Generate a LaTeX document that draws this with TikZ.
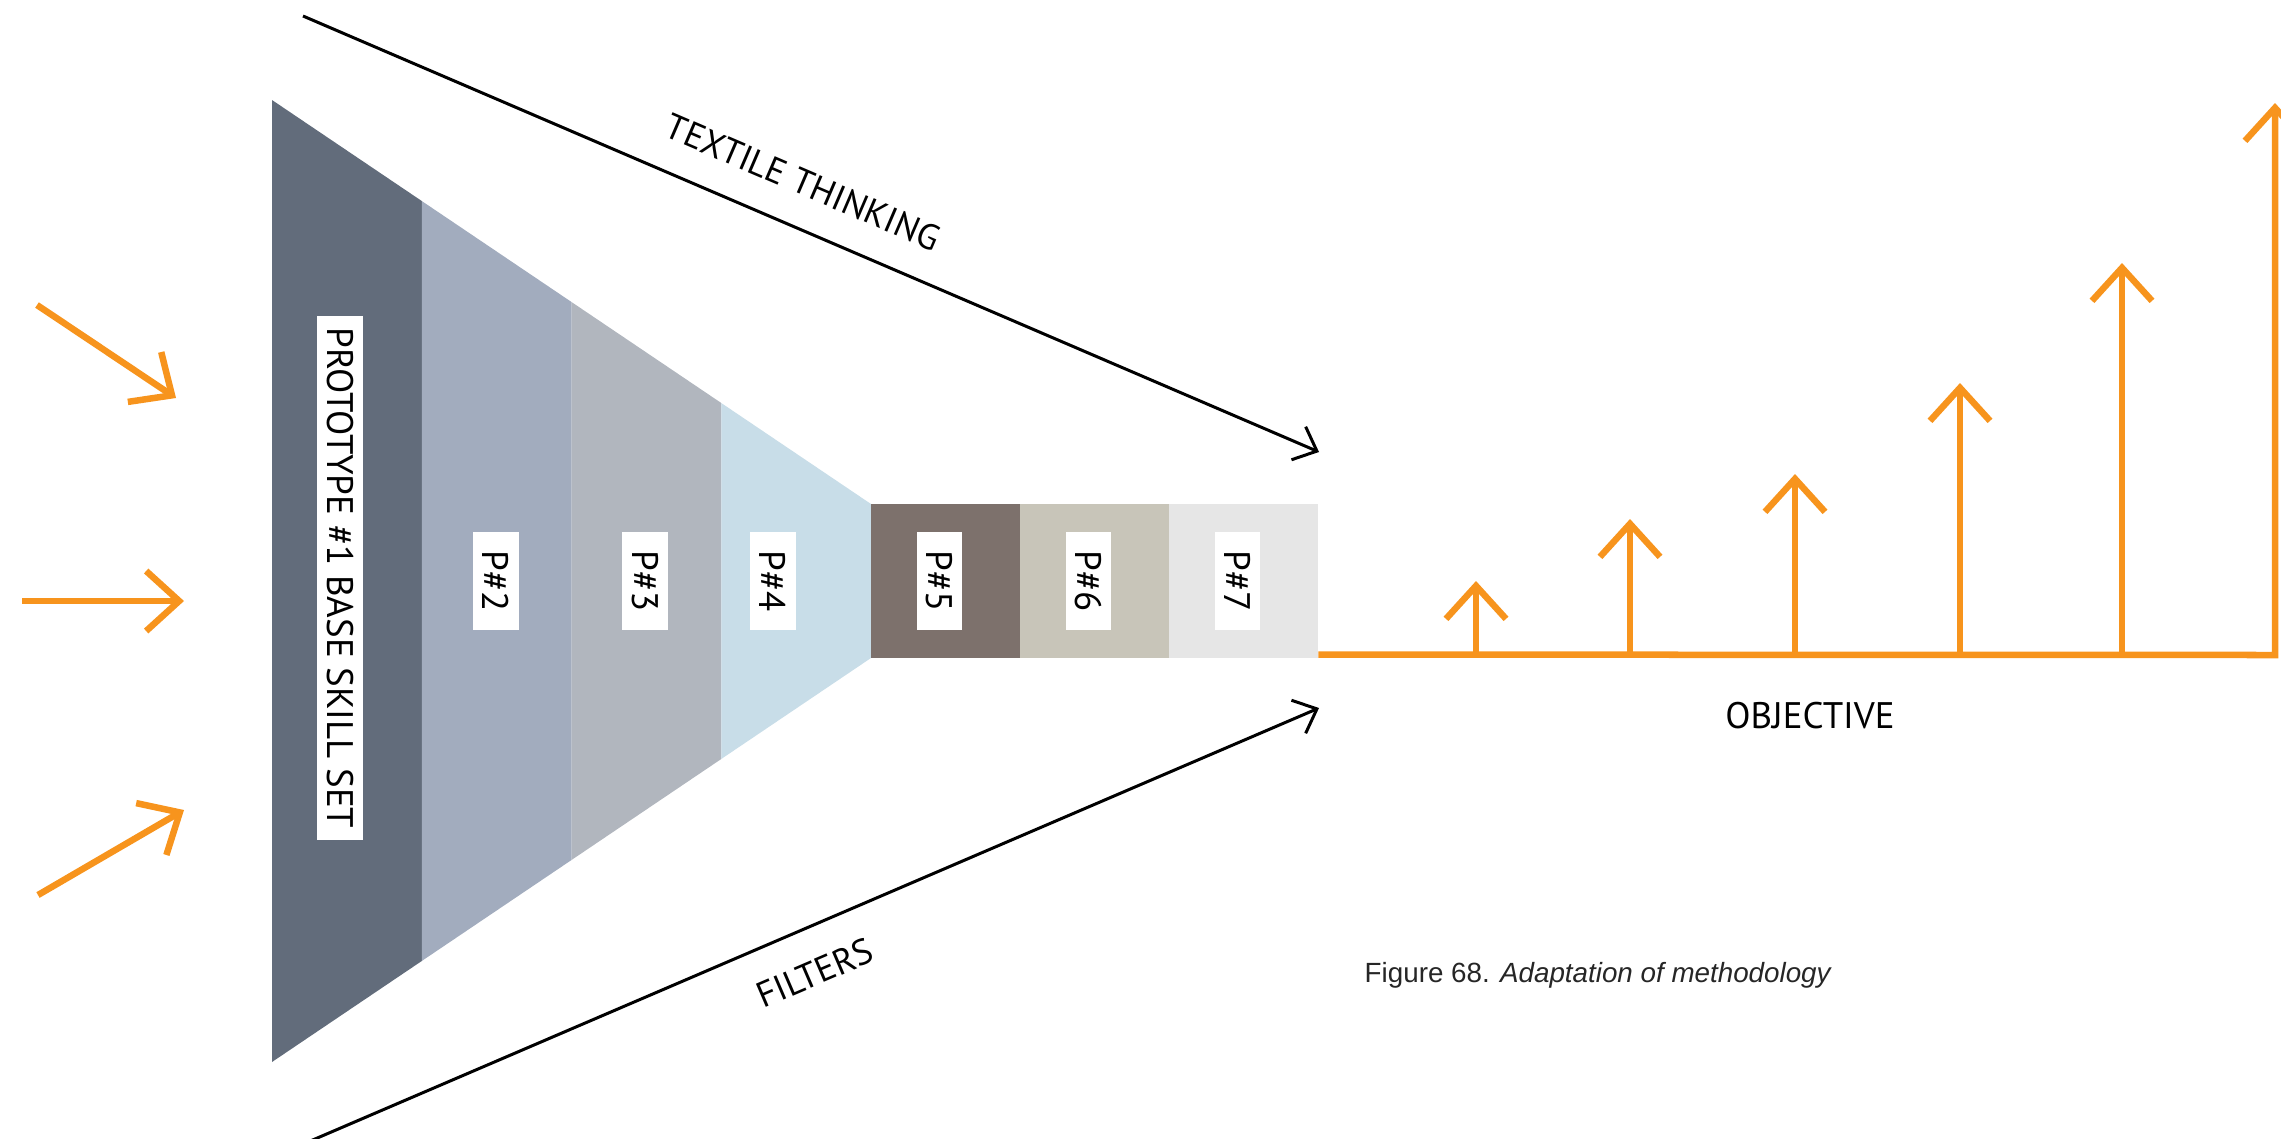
\documentclass[tikz,border=0pt]{standalone}
\usepackage{fontspec}
\setmainfont{PT Sans}
\newfontfamily\captionfont{Liberation Sans}
\usetikzlibrary{arrows.meta,calc,positioning}

\definecolor{stepA}{RGB}{98,108,123}
\definecolor{stepB}{RGB}{162,172,190}
\definecolor{stepC}{RGB}{177,182,190}
\definecolor{stepD}{RGB}{200,221,232}
\definecolor{stepE}{RGB}{125,113,108}
\definecolor{stepF}{RGB}{200,197,185}
\definecolor{stepG}{RGB}{230,230,230}
\definecolor{goalorange}{RGB}{247,148,29}

\tikzset{
    tag/.style={fill=white, rotate=-90, inner sep=0pt, minimum width=0.98cm, minimum height=0.45cm, font=\fontsize{10.5}{12}\selectfont},
    block/.style={minimum width=1.49cm, minimum height=1.54cm, inner sep=0pt, outer sep=0pt},
    flow/.style={line width=0.03cm, -{Straight Barb[length=0.2cm, width=0.36cm]}},
    push/.style={goalorange, line width=0.065cm, -{Straight Barb[length=0.33cm, width=0.6cm]}},
    slant/.style={font=\fontsize{10.2}{12}\selectfont, inner sep=0pt},
}

\begin{document}
\begin{tikzpicture}[x=0.01cm, y=-0.01cm]
    \useasboundingbox (0,0) rectangle (2281,1139);

    % funnel corners
    \coordinate (ftl) at (272,100);
    \coordinate (ftr) at (871,504);
    \coordinate (fbr) at (871,658);
    \coordinate (fbl) at (272,1062);
    \foreach \c [count=\i from 0] in {stepA,stepB,stepC,stepD} {
        \pgfmathsetmacro\j{\i+1}
        \fill[\c] ($(ftl)!\i/4!(ftr)$) -- ($(ftl)!\j/4!(ftr)$) -- ($(fbl)!\j/4!(fbr)$) -- ($(fbl)!\i/4!(fbr)$) -- cycle;
    }

    % straight part
    \node[block, fill=stepE, anchor=north west] (b5) at (871,504) {};
    \node[block, fill=stepF, right=0pt of b5] (b6) {};
    \node[block, fill=stepG, right=0pt of b6] (b7) {};

    % prototype tags
    \node[tag, minimum width=5.24cm] (p1) at (340,578) {PROTOTYPE \#1 BASE SKILL SET};
    \node[tag] (p2) at (496,581) {P\#2};
    \node[tag] (p3) at (645,581) {P\#3};
    \node[tag] (p4) at (773,581) {P\#4};
    \node[tag] (p5) at ([xshift=-0.06cm]b5.center) {P\#5};
    \node[tag] (p6) at ([xshift=-0.06cm]b6.center) {P\#6};
    \node[tag] (p7) at ([xshift=-0.06cm]b7.center) {P\#7};

    % the two guide lines
    \coordinate (tt0) at (303,16);
    \coordinate (tt1) at (1319,452);
    \coordinate (fl0) at (308,1142);
    \coordinate (fl1) at (1319,708);
    \draw[flow] (tt0) -- (tt1) node[slant, pos=0.475, sloped, above=0.3cm] (think) {TEXTILE THINKING};
    \draw[flow] (fl0) -- (fl1) node[slant, pos=0.484, sloped, below=0.3cm] (filt) {FILTERS};

    % inputs
    \coordinate (in1s) at (37,305);  \coordinate (in1e) at (176,398);
    \coordinate (in2s) at (22,601);  \coordinate (in2e) at (184,601);
    \coordinate (in3s) at (38,895);  \coordinate (in3e) at (184,810);
    \draw[push] (in1s) -- (in1e);
    \draw[push] (in2s) -- (in2e);
    \draw[push] (in3s) -- (in3e);

    % objective line
    \coordinate (obj0) at ([yshift=0.035cm]b7.south east);
    \coordinate (obj1) at (2275,655);
    \coordinate (obj2) at (2275,103);
    \draw[push, line join=miter] (obj0) -- (obj1) -- (obj2);
    \foreach \x/\y [count=\k] in {1476/581, 1630/519, 1795/474, 1960/383, 2122/263} {
        \coordinate (rise\k) at (\x,655);
        \draw[push] (rise\k) -- (\x,\y);
    }
    \node[font=\fontsize{10.5}{12}\selectfont] (goal) at (1810,716) {OBJECTIVE};

    \node[anchor=base west, inner sep=0pt, text=black!85, font=\captionfont\fontsize{7.9}{9}\selectfont] (cap) at (1364,982) {Figure 68. \textit{Adaptation of methodology}};
\end{tikzpicture}
\end{document}
